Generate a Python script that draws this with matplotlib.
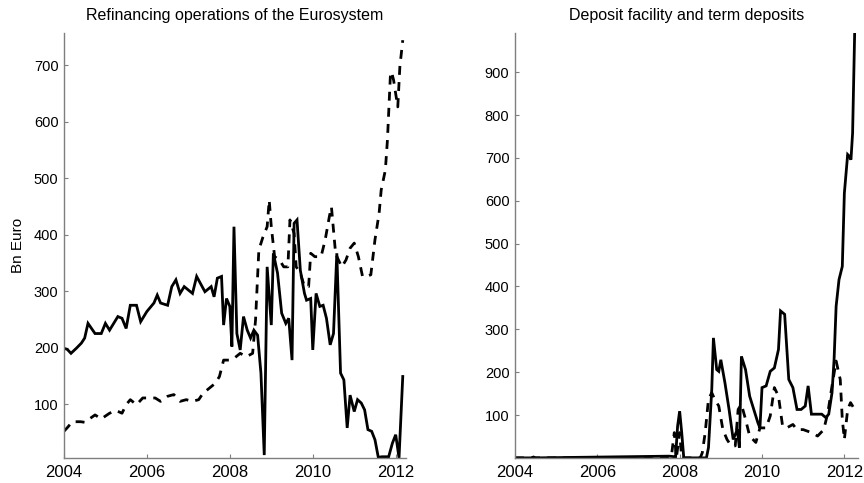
import matplotlib
matplotlib.use("Agg")
import matplotlib.pyplot as plt

plt.rcParams['font.family'] = ['Liberation Sans', 'DejaVu Sans']

# ---- Left panel: Refinancing operations of the Eurosystem ----
ref_solid_t = [2004.0, 2004.08, 2004.17, 2004.3, 2004.42, 2004.5, 2004.58, 2004.75, 2004.9, 2005.0,
               2005.1, 2005.3, 2005.4, 2005.5, 2005.6, 2005.75, 2005.85, 2006.0, 2006.17, 2006.25,
               2006.33, 2006.5, 2006.6, 2006.7, 2006.8, 2006.9, 2007.1, 2007.2, 2007.4, 2007.55,
               2007.62, 2007.7, 2007.8, 2007.85, 2007.92, 2008.0, 2008.05, 2008.1, 2008.17, 2008.25,
               2008.33, 2008.42, 2008.5, 2008.58, 2008.67, 2008.75, 2008.83, 2008.9, 2009.0, 2009.05,
               2009.15, 2009.25, 2009.35, 2009.42, 2009.5, 2009.55, 2009.62, 2009.7, 2009.8, 2009.85,
               2009.95, 2010.0, 2010.08, 2010.17, 2010.25, 2010.33, 2010.42, 2010.5, 2010.58, 2010.67,
               2010.75, 2010.83, 2010.9, 2011.0, 2011.08, 2011.17, 2011.25, 2011.33, 2011.42, 2011.5,
               2011.58, 2011.67, 2011.75, 2011.83, 2011.92, 2012.0, 2012.08, 2012.17]
ref_solid_v = [199, 197, 190, 199, 208, 217, 243, 225, 225, 243,
               231, 255, 252, 234, 275, 275, 246, 264, 279, 293,
               279, 275, 308, 320, 296, 308, 296, 326, 299, 308,
               290, 323, 326, 240, 287, 273, 202, 414, 225, 196,
               255, 231, 217, 231, 222, 155, 10, 343, 240, 367,
               332, 261, 243, 252, 178, 420, 426, 337, 296, 284,
               287, 196, 296, 273, 275, 252, 205, 225, 367, 155,
               143, 58, 116, 87, 108, 102, 90, 55, 52, 37,
               6, 7, 7, 7, 31, 46, 5, 149]

ref_dash_t = [2004.0, 2004.1, 2004.2, 2004.4, 2004.5, 2004.75, 2004.9, 2005.1, 2005.25, 2005.4,
              2005.5, 2005.6, 2005.75, 2005.9, 2006.1, 2006.2, 2006.33, 2006.5, 2006.65, 2006.8,
              2006.95, 2007.1, 2007.25, 2007.35, 2007.5, 2007.65, 2007.75, 2007.85, 2008.0, 2008.1,
              2008.25, 2008.4, 2008.55, 2008.62, 2008.7, 2008.8, 2008.9, 2008.95, 2009.0, 2009.08,
              2009.2, 2009.3, 2009.4, 2009.45, 2009.55, 2009.6, 2009.7, 2009.8, 2009.9, 2009.95,
              2010.05, 2010.2, 2010.3, 2010.4, 2010.45, 2010.55, 2010.62, 2010.7, 2010.8, 2010.9,
              2011.0, 2011.1, 2011.2, 2011.3, 2011.4, 2011.5, 2011.6, 2011.65, 2011.75, 2011.8,
              2011.87, 2011.9, 2011.95, 2012.0, 2012.05, 2012.1, 2012.17]
ref_dash_v = [52, 60, 69, 69, 68, 81, 74, 84, 89, 84,
              99, 108, 99, 111, 111, 111, 105, 114, 117, 105,
              108, 105, 108, 119, 128, 137, 149, 178, 178, 181,
              190, 184, 190, 249, 373, 396, 414, 461, 414, 361,
              355, 343, 343, 426, 402, 343, 332, 308, 308, 367,
              361, 361, 391, 432, 449, 367, 355, 343, 355, 376,
              385, 361, 326, 326, 329, 391, 438, 479, 514, 567,
              679, 688, 673, 649, 626, 697, 744]

# ---- Right panel: Deposit facility and term deposits ----
dep_solid_t = [2004.0, 2004.4, 2004.45, 2004.5, 2007.75, 2007.85, 2007.9, 2007.95, 2008.0, 2008.05,
               2008.1, 2008.65, 2008.7, 2008.78, 2008.82, 2008.9, 2008.95, 2009.0, 2009.1, 2009.2,
               2009.3, 2009.4, 2009.45, 2009.5, 2009.6, 2009.7, 2009.8, 2009.9, 2009.95, 2010.0,
               2010.1, 2010.2, 2010.3, 2010.4, 2010.45, 2010.55, 2010.65, 2010.75, 2010.85, 2010.95,
               2011.05, 2011.12, 2011.2, 2011.3, 2011.45, 2011.55, 2011.62, 2011.7, 2011.75, 2011.8,
               2011.87, 2011.95, 2012.0, 2012.08, 2012.12, 2012.16, 2012.2, 2012.25]
dep_solid_v = [0, 0, 2, 0, 4, 3, 0, 74, 109, 59,
               0, 0, 24, 160, 280, 206, 202, 229, 175, 113,
               43, 66, 24, 237, 206, 144, 113, 82, 70, 164,
               168, 202, 210, 253, 343, 335, 183, 164, 113, 113,
               121, 168, 102, 102, 102, 94, 102, 152, 229, 354,
               416, 447, 618, 708, 704, 696, 758, 992]

dep_dash_t = [2004.0, 2007.75, 2007.8, 2007.87, 2007.92, 2008.0, 2008.05, 2008.5, 2008.55, 2008.62,
              2008.7, 2008.78, 2008.85, 2008.95, 2009.05, 2009.15, 2009.25, 2009.35, 2009.42, 2009.5,
              2009.6, 2009.7, 2009.85, 2009.95, 2010.1, 2010.2, 2010.3, 2010.4, 2010.5, 2010.6,
              2010.75, 2010.85, 2011.0, 2011.2, 2011.35, 2011.5, 2011.6, 2011.7, 2011.8, 2011.9,
              2011.95, 2012.0, 2012.08, 2012.15, 2012.25]
dep_dash_v = [0, 0, 4, 59, 0, 59, 0, 0, 12, 59,
              137, 152, 137, 121, 66, 43, 28, 28, 113, 125,
              90, 51, 36, 70, 70, 98, 164, 144, 74, 70,
              78, 66, 66, 59, 51, 66, 106, 168, 226, 183,
              90, 43, 113, 129, 113]

left_title = "Refinancing operations of the Eurosystem"
right_title = "Deposit facility and term deposits"
y_label = "Bn Euro"
x_ticks = [2004, 2006, 2008, 2010, 2012]
left_yticks = [100, 200, 300, 400, 500, 600, 700]
right_yticks = [100, 200, 300, 400, 500, 600, 700, 800, 900]

fig = plt.figure(figsize=(8.64, 4.83), dpi=100)
ax1 = fig.add_axes([0.074, 0.052, 0.396, 0.880])
ax2 = fig.add_axes([0.596, 0.052, 0.397, 0.880])

lw = 2.0
dash = (3.2, 2.6)
for ax, st, sv, dt, dv in [(ax1, ref_solid_t, ref_solid_v, ref_dash_t, ref_dash_v),
                           (ax2, dep_solid_t, dep_solid_v, dep_dash_t, dep_dash_v)]:
    ax.plot(st, sv, color='black', lw=lw, solid_joinstyle='miter')
    ax.plot(dt, dv, color='black', lw=lw, linestyle=(0, dash))
    ax.spines['top'].set_visible(False)
    ax.spines['right'].set_visible(False)
    for s in ('left', 'bottom'):
        ax.spines[s].set_color('#7f7f7f')
        ax.spines[s].set_linewidth(1.0)
    ax.set_xticks(x_ticks)
    ax.set_xticklabels([str(x) for x in x_ticks])
    ax.tick_params(direction='in', length=3, color='#7f7f7f', pad=4)
    ax.tick_params(axis='y', labelsize=10.5)
    ax.tick_params(axis='x', labelsize=12, pad=5)

ax1.set_xlim(2004, 2012.25)
ax1.set_ylim(5, 757)
ax1.set_yticks(left_yticks)
ax1.set_title(left_title, fontsize=11.5, pad=9)
ax1.set_ylabel(y_label, fontsize=11, labelpad=6)

ax2.set_xlim(2004, 2012.33)
ax2.set_ylim(0, 992)
ax2.set_yticks(right_yticks)
ax2.set_title(right_title, fontsize=11.5, pad=9)

fig.savefig("out.png", dpi=100)
